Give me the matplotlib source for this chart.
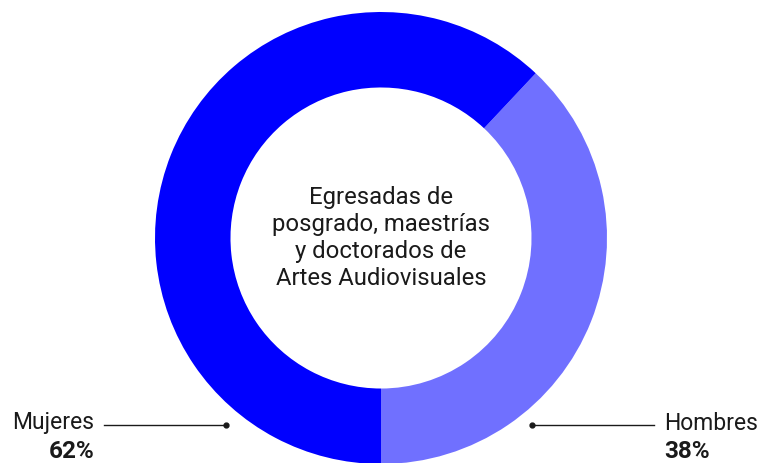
import matplotlib
matplotlib.use("Agg")
import matplotlib.pyplot as plt

# datos
labels = ['Hombres', 'Mujeres']
values = [38, 62]
colors = ['#7070ff', '#0000ff']
center_text = 'Egresadas de\nposgrado, maestrías\ny doctorados de\nArtes Audiovisuales'

plt.rcParams['font.family'] = ['Roboto', 'DejaVu Sans']

W, H = 761, 463
fig = plt.figure(figsize=(W / 100, H / 100), dpi=100)
ax = fig.add_axes([0, 0, 1, 1])

cx, cy, R = 381, 225, 226
ax.pie(values, colors=colors, startangle=-90, counterclock=True,
       center=(cx, cy), radius=R, frame=True,
       wedgeprops=dict(width=R * 0.334, linewidth=0))
ax.set_xlim(0, W)
ax.set_ylim(0, H)
ax.set_aspect('equal')
ax.axis('off')

ax.text(cx, cy, center_text, ha='center', va='center', fontsize=17.2,
        color='#1a1a1a', linespacing=1.23)

# Mujeres (izquierda)
ly = 38
fs = 16.5
ax.plot([104, 226], [ly, ly], color='#1a1a1a', lw=1)
ax.plot([226], [ly], 'o', color='#1a1a1a', ms=3.5)
ax.text(94, ly + 2, labels[1], ha='right', va='center', fontsize=fs, color='#1a1a1a')
ax.text(94, ly - 27, f'{values[1]}%', ha='right', va='center', fontsize=fs + 1,
        fontweight='bold', color='#1a1a1a')

# Hombres (derecha)
ax.plot([532, 654], [ly, ly], color='#1a1a1a', lw=1)
ax.plot([532], [ly], 'o', color='#1a1a1a', ms=3.5)
ax.text(664, ly + 2, labels[0], ha='left', va='center', fontsize=fs, color='#1a1a1a')
ax.text(664, ly - 27, f'{values[0]}%', ha='left', va='center', fontsize=fs + 1,
        fontweight='bold', color='#1a1a1a')

fig.savefig('out.png', dpi=100)
